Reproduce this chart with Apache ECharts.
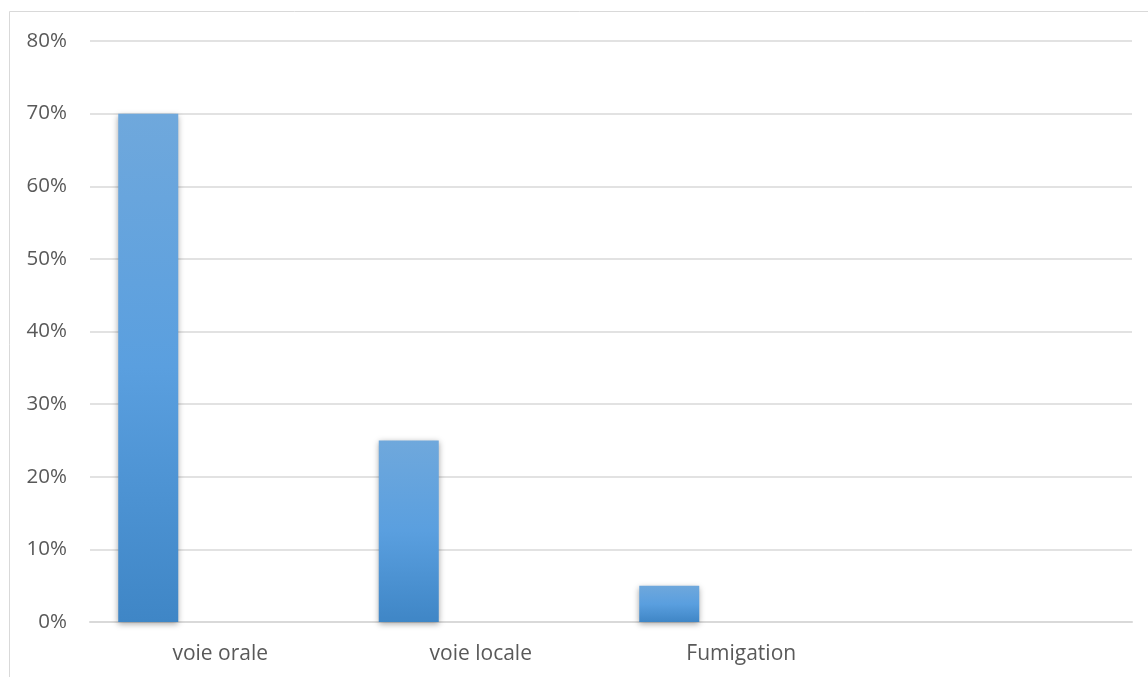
<!DOCTYPE html>
<html><head><meta charset="utf-8">
<script src="https://cdn.jsdelivr.net/npm/echarts@6/dist/echarts.min.js"></script>
<style>html,body{margin:0;padding:0;background:#fff}#c{width:1148px;height:677px}</style>
</head><body><div id="c"></div>
<script>
const categories = ['voie orale', 'voie locale', 'Fumigation', ''];
const seriesValues = [0.70, 0.25, 0.05, null];
const emptySeries = [null, null, null, null];
const yTicks = [0, 0.1, 0.2, 0.3, 0.4, 0.5, 0.6, 0.7, 0.8];

const chart = echarts.init(document.getElementById('c'), null, {renderer: 'canvas'});
const font = '"Open Sans", Lato, sans-serif';
chart.setOption({
  animation: false,
  graphic: [{type: 'rect', shape: {x: 9.5, y: 11.5, width: 1160, height: 700}, style: {fill: 'none', stroke: '#d9d9d9', lineWidth: 1}, z: -1}],
  grid: {left: 90, right: 16, top: 41, bottom: 55},
  xAxis: {
    type: 'category', data: categories,
    axisLine: {show: true, lineStyle: {color: '#d9d9d9', width: 2}},
    axisTick: {show: false},
    axisLabel: {color: '#595959', fontSize: 21, fontFamily: font, margin: 22}
  },
  yAxis: {
    type: 'value', min: 0, max: yTicks[yTicks.length - 1], interval: 0.1,
    axisLine: {show: false}, axisTick: {show: false},
    splitLine: {lineStyle: {color: '#d9d9d9', width: 1.5}},
    axisLabel: {color: '#595959', fontSize: 20.5, fontFamily: font, margin: 23,
      formatter: v => Math.round(v * 100) + '%'}
  },
  series: [{
    type: 'bar', data: seriesValues, barWidth: 60, barGap: '140%',
    itemStyle: {
      color: new echarts.graphic.LinearGradient(0, 0, 0, 1, [
        {offset: 0, color: '#6fa8dc'}, {offset: 0.5, color: '#5a9fdf'}, {offset: 1, color: '#3f86c6'}
      ]),
      shadowColor: 'rgba(0,0,0,0.35)', shadowBlur: 6, shadowOffsetX: 0, shadowOffsetY: 2
    }
  }, {
    type: 'bar', data: emptySeries, barWidth: 60
  }]
});
</script></body></html>
